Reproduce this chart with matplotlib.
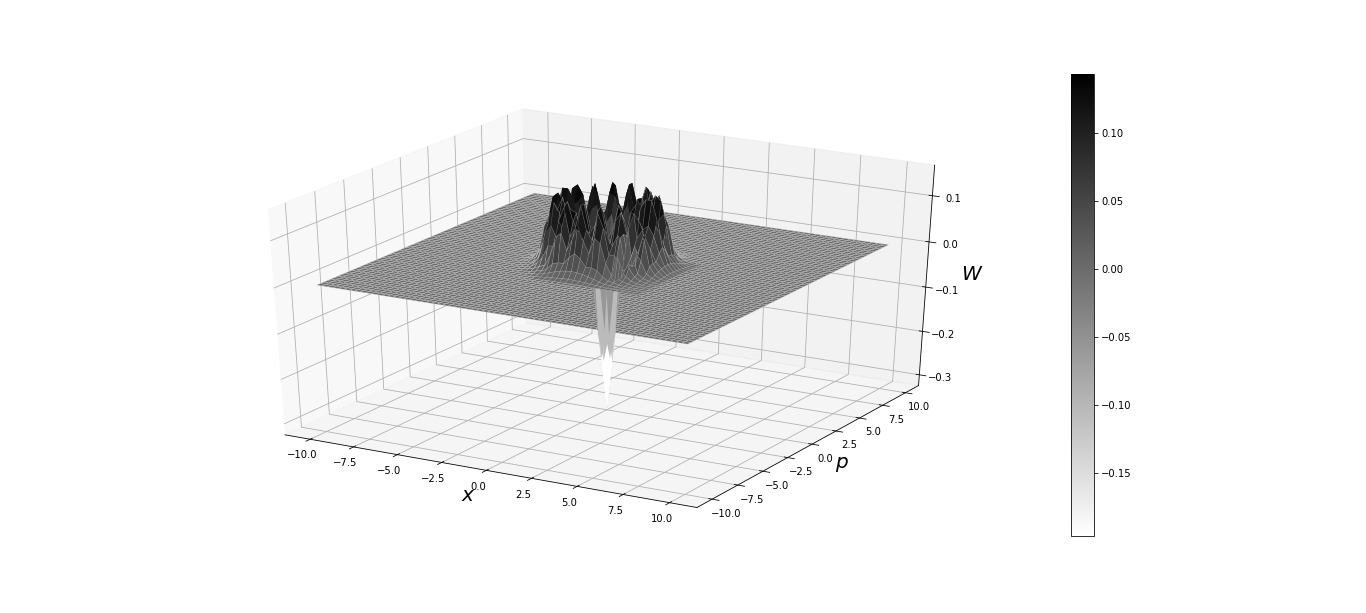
import numpy as np
import matplotlib
matplotlib.use("Agg")
import matplotlib.pyplot as plt

# x and p nodes
x_nodes = np.linspace(-10, 10, 67)
p_nodes = np.linspace(-10, 10, 67)

# W for the 14 nodes from x, p = 0 outwards (rest of the plane is flat)
w_quadrant = [
    [-.32, -.21, -.03, .07, .01, .05, .13, .15, .15, .11, .055, .02, .006, .001],
    [-.21, -.15, -.03, .065, 0, .03, .07, .09, .10, .08, .045, .019, .006, .001],
    [-.03, -.03, -.02, .03, 0, .09, .125, .11, .08, .055, .03, .017, .005, .001],
    [.07, .065, .03, 0, .021, .07, .13, .15, .14, .09, .03, .014, .004, .001],
    [.01, 0, 0, .021, .11, .10, .07, .095, .11, .08, .026, .01, .003, .0005],
    [.05, .03, .09, .07, .10, .15, .12, .07, .055, .04, .014, .006, .002, 0],
    [.13, .07, .125, .13, .07, .12, .14, .095, .055, .016, .007, .003, .001, 0],
    [.15, .09, .11, .15, .095, .07, .095, .08, .03, .012, .005, .002, 0, 0],
    [.15, .10, .08, .14, .11, .055, .055, .03, .014, .006, .002, .001, 0, 0],
    [.11, .08, .055, .09, .08, .04, .016, .012, .006, .003, .001, 0, 0, 0],
    [.055, .045, .03, .03, .026, .014, .007, .005, .002, .001, 0, 0, 0, 0],
    [.02, .019, .017, .014, .01, .006, .003, .002, .001, 0, 0, 0, 0, 0],
    [.006, .006, .005, .004, .003, .002, .001, 0, 0, 0, 0, 0, 0, 0],
    [.001, .001, .001, .001, .0005, 0, 0, 0, 0, 0, 0, 0, 0, 0],
]

w_min = -0.196
w_max = 0.143


def build_surface(quadrant):
    """Mirror the quadrant around the origin and pad it with the flat plane."""
    q = np.array(quadrant)
    top = np.hstack([q[:, :0:-1], q])
    full = np.vstack([top[:0:-1], top])
    pad = (len(x_nodes) - full.shape[0]) // 2
    return np.pad(full, pad)


X, P = np.meshgrid(x_nodes, p_nodes, indexing="ij")
W = build_surface(w_quadrant)

fig = plt.figure(figsize=(1366 / 72, 613 / 72), dpi=72)
ax = fig.add_axes([0.121, 0.1193, 0.6294, 0.758], projection="3d")
ax.apply_aspect = lambda position=None: None  # stretch the box like old mplot3d
ax.set_box_aspect((1, 1, 1), zoom=0.93)
ax.computed_zorder = False


def draw_patch(ix, ip, zorder, lw=0.0, edge="none"):
    return ax.plot_surface(X[ix, ip], P[ix, ip], W[ix, ip], rstride=1, cstride=1,
                           cmap="gray_r", vmin=w_min, vmax=w_max, linewidth=lw,
                           edgecolor=edge, antialiased=True, zorder=zorder)


# the dip shows through the plane in front of it, the ring sits on top of the dip
surf = draw_patch(slice(None), slice(None), 1, 0.5, (0.85, 0.85, 0.85, 0.5))
draw_patch(slice(25, 42), slice(25, 42), 1.5)
draw_patch(slice(31, 36), slice(31, 36), 2)
draw_patch(slice(27, 47), slice(20, 32), 3, 0.4, (0.85, 0.85, 0.85, 0.4))
draw_patch(slice(35, 47), slice(31, 41), 3, 0.4, (0.85, 0.85, 0.85, 0.4))

ax.set_zlim(-0.325, 0.165)
ax.set_xlabel(r"$x$", fontsize=20)
ax.set_ylabel(r"$p$", fontsize=20)
ax.zaxis.set_rotate_label(False)
ax.set_zlabel(r"$W$", fontsize=20, rotation=0)

cax = fig.add_axes([1071 / 1366, 1 - 536 / 613, 23 / 1366, 462 / 613])
fig.colorbar(surf, cax=cax)

fig.savefig("out.png", dpi=72)
